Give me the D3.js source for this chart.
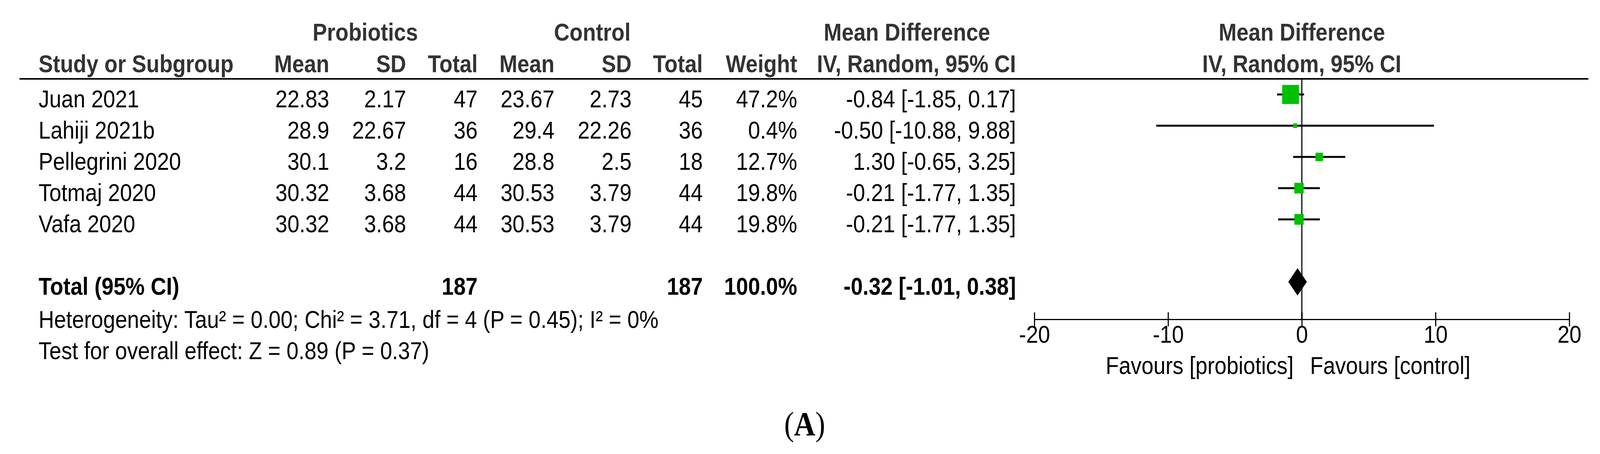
<!DOCTYPE html>
<html>
<head>
<meta charset="utf-8">
<script src="https://cdn.jsdelivr.net/npm/d3@7"></script>
<style>
  html, body { margin: 0; padding: 0; background: #fff; overflow: hidden; }
  #chart svg { display: block; width: 100vw; height: 100vh; }
</style>
</head>
<body>
<div id="chart"></div>
<script>
// study rows
const studies = ["Juan 2021", "Lahiji 2021b", "Pellegrini 2020", "Totmaj 2020", "Vafa 2020"];
const probMean = [22.83, 28.9, 30.1, 30.32, 30.32];
const probSD = [2.17, 22.67, 3.2, 3.68, 3.68];
const probN = [47, 36, 16, 44, 44];
const ctrlMean = [23.67, 29.4, 28.8, 30.53, 30.53];
const ctrlSD = [2.73, 22.26, 2.5, 3.79, 3.79];
const ctrlN = [45, 36, 18, 44, 44];
const weights = [47.2, 0.4, 12.7, 19.8, 19.8];
const meanDiff = [-0.84, -0.5, 1.3, -0.21, -0.21];
const ciLow = [-1.85, -10.88, -0.65, -1.77, -1.77];
const ciHigh = [0.17, 9.88, 3.25, 1.35, 1.35];

// pooled result
const totalProbN = 187;
const totalCtrlN = 187;
const totalWeight = 100.0;
const pooled = [-0.32, -1.01, 0.38]; // estimate, low, high

const xTicks = [-20, -10, 0, 10, 20];
const heterogeneity = "Heterogeneity: Tau² = 0.00; Chi² = 3.71, df = 4 (P = 0.45); I² = 0%";
const overall = "Test for overall effect: Z = 0.89 (P = 0.37)";

const W = 4271, H = 1163;
const K = 1.09; // the source picture is stretched vertically
const yv = (v) => v / K;
const font = "'Liberation Sans', Arial, sans-serif";
const fs = 57.5;

// svg fills the window whatever its css size
const svg = d3
  .select("#chart")
  .append("svg")
  .attr("viewBox", `0 0 ${W} ${H / K}`)
  .attr("preserveAspectRatio", "none");

// column right edges
const cols = {
  label: 103, pMean: 879, pSD: 1084, pN: 1275,
  cMean: 1480, cSD: 1686, cN: 1876, weight: 2128, ci: 2712,
};

const x = d3.scaleLinear().domain([-20, 20]).range([2761, 4189]);
const y = d3.scaleLinear().domain([0, 1]).range([yv(275), yv(355)]);
const boxSize = d3.scaleLinear().domain([0, 47.2]).range([10.5, 45]);
const ciOffset = yv(33);
const fmt = (v) => v.toFixed(2);

const txt = (g, xPos, yPos, s, anchor, weight, fill) =>
  g.append("text")
    .attr("x", xPos)
    .attr("y", yPos)
    .attr("text-anchor", anchor || "start")
    .attr("font-family", font)
    .attr("font-size", fs)
    .attr("font-weight", weight || "normal")
    .attr("fill", fill || "#000")
    .text(s);

// headers
const head = svg.append("g");
const h1 = yv(104), h2 = yv(185);
txt(head, 975, h1, "Probiotics", "middle", "bold", "#333");
txt(head, 1581, h1, "Control", "middle", "bold", "#333");
txt(head, 2421, h1, "Mean Difference", "middle", "bold", "#333");
txt(head, x(0), h1, "Mean Difference", "middle", "bold", "#333");
txt(head, cols.label, h2, "Study or Subgroup", "start", "bold", "#333");
[["Mean", cols.pMean], ["SD", cols.pSD], ["Total", cols.pN], ["Mean", cols.cMean],
 ["SD", cols.cSD], ["Total", cols.cN], ["Weight", cols.weight], ["IV, Random, 95% CI", cols.ci]]
  .forEach(([s, c]) => txt(head, c, h2, s, "end", "bold", "#333"));
txt(head, x(0), h2, "IV, Random, 95% CI", "middle", "bold", "#333");

// zero line
const axisY = yv(818);
svg.append("line")
  .attr("x1", x(0)).attr("x2", x(0))
  .attr("y1", yv(202)).attr("y2", axisY)
  .attr("stroke", "#333").attr("stroke-width", 4);

// header rule
svg.append("line")
  .attr("x1", 52).attr("x2", 4240)
  .attr("y1", yv(202)).attr("y2", yv(202))
  .attr("stroke", "#000").attr("stroke-width", yv(4));

// study rows
const rows = svg.append("g");
studies.forEach((s, i) => {
  const yy = y(i);
  txt(rows, cols.label, yy, s);
  txt(rows, cols.pMean, yy, String(probMean[i]), "end");
  txt(rows, cols.pSD, yy, String(probSD[i]), "end");
  txt(rows, cols.pN, yy, String(probN[i]), "end");
  txt(rows, cols.cMean, yy, String(ctrlMean[i]), "end");
  txt(rows, cols.cSD, yy, String(ctrlSD[i]), "end");
  txt(rows, cols.cN, yy, String(ctrlN[i]), "end");
  txt(rows, cols.weight, yy, weights[i].toFixed(1) + "%", "end");
  txt(rows, cols.ci, yy, `${fmt(meanDiff[i])} [${fmt(ciLow[i])}, ${fmt(ciHigh[i])}]`, "end");
});

// confidence intervals
svg.append("g")
  .selectAll("line")
  .data(studies)
  .join("line")
  .attr("x1", (d, i) => x(ciLow[i]))
  .attr("x2", (d, i) => x(ciHigh[i]))
  .attr("y1", (d, i) => y(i) - ciOffset)
  .attr("y2", (d, i) => y(i) - ciOffset)
  .attr("stroke", "#000")
  .attr("stroke-width", yv(5));

// weight boxes
svg.append("g")
  .selectAll("rect")
  .data(studies)
  .join("rect")
  .attr("x", (d, i) => x(meanDiff[i]) - boxSize(weights[i]) / 2)
  .attr("y", (d, i) => y(i) - ciOffset - boxSize(weights[i]) / 2)
  .attr("width", (d, i) => boxSize(weights[i]))
  .attr("height", (d, i) => boxSize(weights[i]))
  .attr("fill", "#00c000");

// total row
const ty = y(6);
txt(rows, cols.label, ty, "Total (95% CI)", "start", "bold");
txt(rows, cols.pN, ty, String(totalProbN), "end", "bold");
txt(rows, cols.cN, ty, String(totalCtrlN), "end", "bold");
txt(rows, cols.weight, ty, totalWeight.toFixed(1) + "%", "end", "bold");
txt(rows, cols.ci, ty, `${fmt(pooled[0])} [${fmt(pooled[1])}, ${fmt(pooled[2])}]`, "end", "bold");

const dc = ty - ciOffset, dh = yv(35);
svg.append("path")
  .attr("d", `M${x(pooled[1])},${dc} L${x(pooled[0])},${dc - dh} L${x(pooled[2])},${dc} L${x(pooled[0])},${dc + dh} Z`)
  .attr("fill", "#000");

// footnotes
txt(rows, cols.label, yv(840), heterogeneity);
txt(rows, cols.label, yv(920), overall);

// x axis
const ax = svg.append("g")
  .attr("transform", `translate(0, ${axisY})`)
  .call(d3.axisBottom(x).tickValues(xTicks).tickFormat((d) => String(d)).tickSize(0).tickPadding(yv(16)));
ax.select(".domain").attr("stroke", "#000").attr("stroke-width", yv(3));
ax.selectAll(".tick line").attr("y1", -yv(18)).attr("y2", yv(18)).attr("stroke", "#000").attr("stroke-width", 3);
ax.selectAll(".tick text").attr("font-family", font).attr("font-size", fs).attr("fill", "#000");

txt(svg, x(0) - 22, yv(958), "Favours [probiotics]", "end");
txt(svg, x(0) + 22, yv(958), "Favours [control]", "start");

// panel label
const lab = svg.append("text")
  .attr("x", 2148)
  .attr("y", yv(1115))
  .attr("text-anchor", "middle")
  .attr("font-family", "'Liberation Serif', 'Times New Roman', serif")
  .attr("font-size", 79)
  .attr("fill", "#000");
lab.append("tspan").text("(");
lab.append("tspan").attr("font-weight", "bold").text("A");
lab.append("tspan").text(")");
</script>
</body>
</html>
